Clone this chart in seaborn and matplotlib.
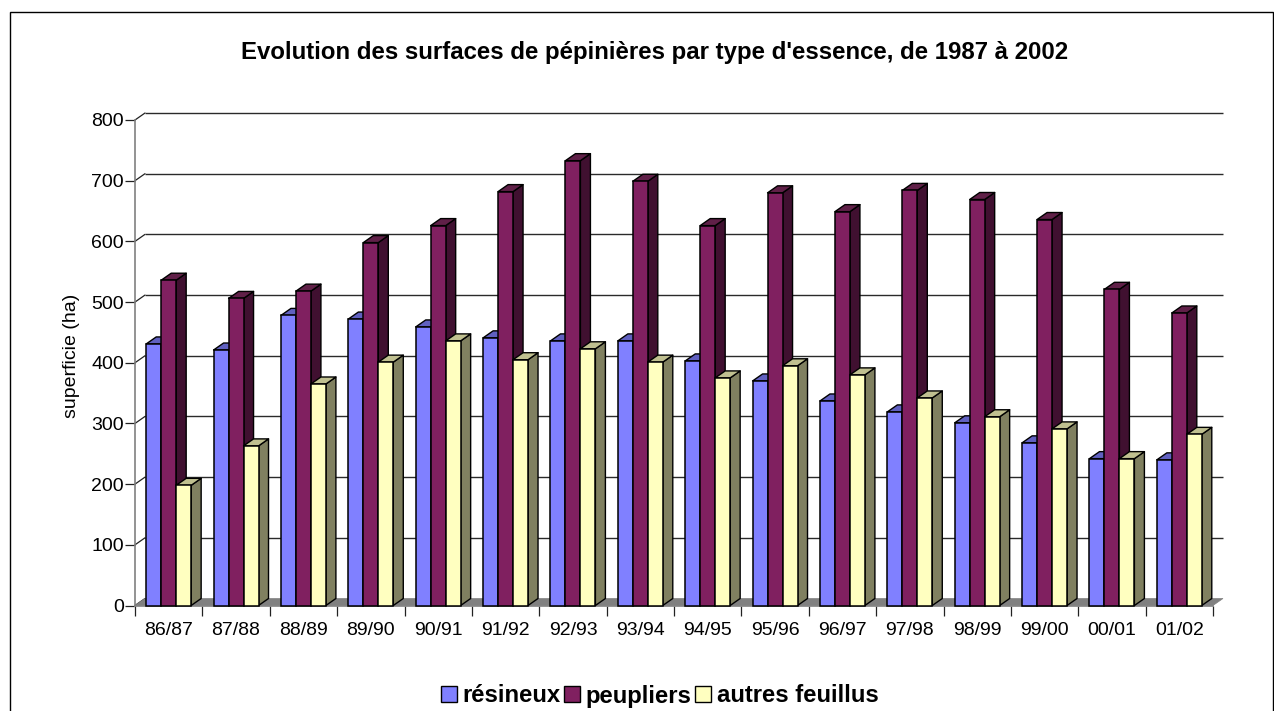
import matplotlib
matplotlib.use("Agg")
import matplotlib.pyplot as plt
import matplotlib.transforms as mtrans
from matplotlib.patches import Polygon, Rectangle
import pandas as pd
import seaborn as sns

campagnes = ["86/87", "87/88", "88/89", "89/90", "90/91", "91/92", "92/93", "93/94",
             "94/95", "95/96", "96/97", "97/98", "98/99", "99/00", "00/01", "01/02"]
resineux = [431, 421, 478, 472, 459, 441, 436, 436, 403, 370, 337, 319, 301, 268, 242, 240]
peupliers = [536, 506, 518, 598, 626, 682, 733, 699, 626, 680, 649, 684, 669, 636, 521, 482]
autres = [198, 263, 365, 401, 436, 405, 423, 401, 375, 395, 380, 342, 311, 291, 242, 282]
series_names = ["résineux", "peupliers", "autres feuillus"]
y_ticks = [0, 100, 200, 300, 400, 500, 600, 700, 800]

front = ["#8080FF", "#802060", "#FFFFC0"]
top = ["#6060C0", "#602048", "#C0C090"]
side = ["#404080", "#401030", "#808060"]

df = pd.DataFrame({
    "campagne": campagnes * 3,
    "surface": resineux + peupliers + autres,
    "type": [n for n in series_names for _ in campagnes],
})

W, H = 1274, 711
sns.set_style("white")
plt.rcParams["font.family"] = ["Liberation Sans", "DejaVu Sans"]
fig = plt.figure(figsize=(W / 100, H / 100), dpi=100)
L, R, T, B = 135, 1213, 120, 605.5
ax = fig.add_axes([L / W, 1 - B / H, (R - L) / W, (B - T) / H])

sns.barplot(data=df, x="campagne", y="surface", hue="type", hue_order=series_names,
            palette=front, saturation=1, width=0.667, gap=0, dodge=True,
            edgecolor="black", linewidth=1.1, ax=ax, legend=True)

ax.set_xlim(-0.5, len(campagnes) - 0.5)
ax.set_ylim(0, 800)
DX_PX, DY_PX = 10, 7
dx = DX_PX / ((R - L) / len(campagnes))
dy = DY_PX / ((B - T) / 800)

# back wall and floor
wall = mtrans.offset_copy(ax.transData, fig=fig, x=DX_PX, y=DY_PX, units="dots")
for v in y_ticks:
    if v > 0:
        ax.plot([-0.5, len(campagnes) - 0.5], [v, v], transform=wall, color="#2a2a2a",
                lw=1.0, clip_on=False, zorder=1, solid_capstyle="butt")
    ax.plot([-0.5, -0.5 + dx], [v, v + dy], color="#222222", lw=0.9, clip_on=False, zorder=1)
x0, x1 = -0.5, len(campagnes) - 0.5
ax.add_patch(Polygon([(x0, 0), (x0 + dx, dy), (x1 + dx, dy), (x1, 0)], closed=True,
                     facecolor="#808080", edgecolor="#808080", lw=0.5, clip_on=False, zorder=1.5))

# 3-D faces derived from the seaborn bars
bars = [p for c in ax.containers for p in c]
n = len(campagnes)
for i, bar in enumerate(bars):
    s, c = divmod(i, n)
    z = 3 + c * 4 + s
    xa, w, h = bar.get_x(), bar.get_width(), bar.get_height()
    xb = xa + w
    bar.set_zorder(z + 0.3)
    bar.set_clip_on(False)
    ax.add_patch(Polygon([(xb, 0), (xb + dx, dy), (xb + dx, h + dy), (xb, h)], closed=True,
                         facecolor=side[s], edgecolor="black", lw=1.0, clip_on=False,
                         zorder=z + 0.1, joinstyle="round"))
    ax.add_patch(Polygon([(xa, h), (xa + dx, h + dy), (xb + dx, h + dy), (xb, h)], closed=True,
                         facecolor=top[s], edgecolor="black", lw=1.0, clip_on=False,
                         zorder=z + 0.2, joinstyle="round"))

for sp in ("top", "right"):
    ax.spines[sp].set_visible(False)
for sp in ("left", "bottom"):
    ax.spines[sp].set_color("#808080")
    ax.spines[sp].set_linewidth(1.2)
    ax.spines[sp].set_zorder(2)

ax.set_yticks(y_ticks)
ax.set_yticklabels([str(v) for v in y_ticks], fontsize=14, color="black")
ax.tick_params(axis="y", left=True, length=7, width=0.9, color="#222222", pad=1)
ax.set_xticks([k - 0.5 for k in range(n + 1)])
ax.set_xticklabels([""] * (n + 1))
ax.set_xticks(range(n), labels=campagnes, minor=True)
ax.tick_params(axis="x", which="major", bottom=True, length=7, width=0.9, color="#222222")
ax.tick_params(axis="x", which="minor", bottom=False, length=0, pad=12, labelsize=14, labelcolor="black")
ax.set_xlabel("")
ax.set_ylabel("superficie (ha)", fontsize=14, color="black")
ax.yaxis.set_label_coords((80 - L) / (R - L), (B - 356) / (B - T))
ax.patch.set_alpha(0)

fig.text(654.5 / W, 1 - 52 / H, "Evolution des surfaces de pépinières par type d'essence, de 1987 à 2002",
         ha="center", va="center", fontsize=17.25, fontweight="bold", color="black")

# chart frame
fig.add_artist(Rectangle((9.5 / W, -0.01), (1273 - 9.5) / W, 1 - 11.5 / H + 0.01, transform=fig.transFigure,
                         facecolor="none", edgecolor="black", lw=1.0))

handles, labels = ax.get_legend_handles_labels()
for h_ in handles:
    h_.set_edgecolor("black")
    h_.set_linewidth(1.0)
leg = ax.legend(handles, labels, ncol=3, frameon=False, loc="center",
                bbox_to_anchor=(659.5 / W, 1 - 696 / H), bbox_transform=fig.transFigure,
                prop={"weight": "bold", "size": 17.2}, handlelength=0.67, handleheight=0.67,
                handletextpad=0.25, columnspacing=0.125, borderpad=0, borderaxespad=0,
                labelcolor="black")

fig.savefig("out.png", dpi=100)
